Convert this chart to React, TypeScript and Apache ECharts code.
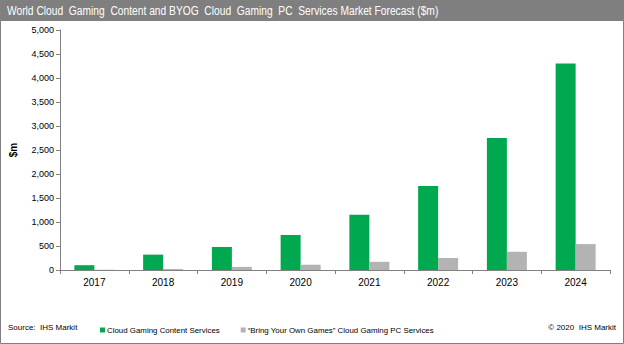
import React, { useEffect, useRef } from "react";
import * as echarts from "echarts";

const years = ["2017", "2018", "2019", "2020", "2021", "2022", "2023", "2024"];
const contentServices = [100, 320, 480, 730, 1150, 1750, 2750, 4300];
const byogServices = [5, 20, 65, 110, 170, 250, 380, 540];
const seriesNames = [
  "Cloud Gaming Content Services",
  "\u201CBring Your Own Games\u201D Cloud Gaming PC Services",
];

export default function App() {
  const ref = useRef<HTMLDivElement>(null);
  useEffect(() => {
    if (!ref.current) return;
    const chart = echarts.init(ref.current, undefined, { renderer: "svg" });
    const font = "Liberation Sans, Arial, sans-serif";
    chart.setOption({
      animation: false,
      backgroundColor: "#ffffff",
      textStyle: { fontFamily: font },
      graphic: [
        { type: "rect", shape: { x: 0, y: 0, width: 624, height: 21 }, style: { fill: "#7f7f7f" }, z: -1 },
        {
          type: "text",
          x: 7,
          y: 4,
          scaleX: 0.82,
          style: {
            text: "World Cloud  Gaming  Content and BYOG  Cloud  Gaming  PC  Services Market Forecast ($m)",
            fill: "#ffffff",
            fontSize: 12.5,
            fontFamily: font,
          },
        },
        {
          type: "rect",
          shape: { x: 0.5, y: 0.5, width: 623, height: 343 },
          style: { fill: "none", stroke: "#808080", lineWidth: 1 },
        },
        {
          type: "text",
          left: 8,
          top: 323,
          style: { text: "Source:  IHS Markit", fill: "#000", fontSize: 8, fontFamily: font },
        },
        {
          type: "text",
          right: 8,
          top: 323,
          style: { text: "\u00A9 2020  IHS Markit", fill: "#000", fontSize: 8, fontFamily: font },
        },
      ],
      legend: {
        left: 95,
        top: 321,
        icon: "rect",
        itemWidth: 5,
        itemHeight: 5,
        itemGap: 21,
        textStyle: { fontSize: 7.9, color: "#000", fontFamily: font, padding: [0, 0, 0, -3] },
        data: seriesNames,
      },
      grid: { left: 57, right: 14, top: 30, bottom: 74 },
      xAxis: {
        type: "category",
        data: years,
        axisLine: { lineStyle: { color: "#808080" } },
        axisTick: { show: true, length: 4, lineStyle: { color: "#808080" } },
        axisLabel: { color: "#000", fontSize: 10, margin: 7 },
      },
      yAxis: {
        type: "value",
        min: 0,
        max: 5000,
        interval: 500,
        name: "$m",
        nameLocation: "middle",
        nameGap: 42,
        nameRotate: 90,
        nameTextStyle: { color: "#000", fontSize: 10, fontWeight: "bold" },
        axisLine: { show: true, lineStyle: { color: "#808080" } },
        axisTick: { show: true, length: 4, lineStyle: { color: "#808080" } },
        splitLine: { show: false },
        axisLabel: {
          color: "#000",
          fontSize: 9,
          margin: 6,
          formatter: (v: number) => v.toLocaleString("en-US"),
        },
      },
      series: [
        {
          name: seriesNames[0],
          type: "bar",
          data: contentServices,
          barWidth: 20,
          barGap: "0%",
          itemStyle: { color: "#00a84f" },
        },
        {
          name: seriesNames[1],
          type: "bar",
          data: byogServices,
          barWidth: 20,
          barGap: "0%",
          itemStyle: { color: "#b3b3b3" },
        },
      ],
    });
    return () => chart.dispose();
  }, []);
  return (
    <div
      ref={ref}
      style={{ position: "fixed", left: 0, top: 0, width: 624, height: 344 }}
    />
  );
}
